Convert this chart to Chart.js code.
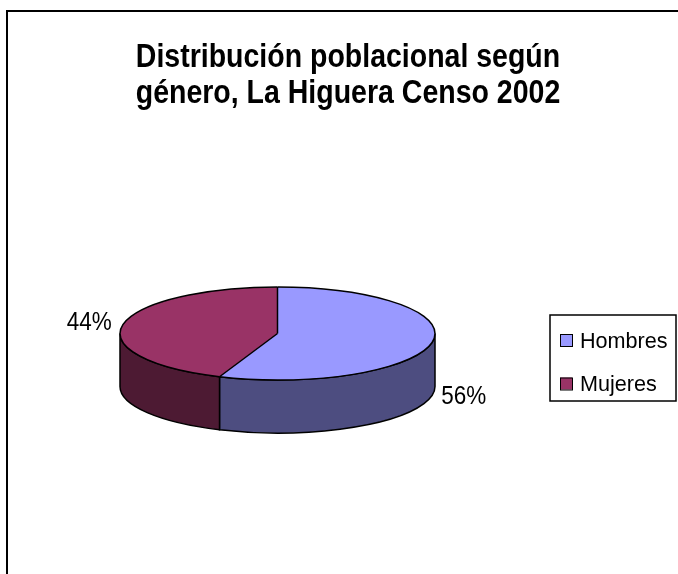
<!DOCTYPE html>
<html>
<head>
<meta charset="utf-8">
<title>Distribución poblacional según género, La Higuera Censo 2002</title>
<script src="https://cdn.jsdelivr.net/npm/chart.js@4.4.1/dist/chart.umd.min.js"></script>
<style>
  html, body { margin: 0; padding: 0; background: #fff; }
  #wrap { width: 678px; height: 574px; position: relative; }
</style>
</head>
<body>
<div id="wrap"><canvas id="pie3d"></canvas></div>
<script>
const titleLines = ['Distribución poblacional según', 'género, La Higuera Censo 2002'];
const categories = ['Hombres', 'Mujeres'];
const shares = [56, 44];

const topColors = ['#9999FF', '#993366'];
const sideColors = ['#4D4D80', '#4D1A33'];

const TILT = 46.5 / 157.5;   // vertical squash of the pie top
const DEPTH = 53;            // height of the pie wall
const FONT = "'Liberation Sans', Arial, sans-serif";

// text in the original is a bit taller than its width suggests
function stretchedText(ctx, text, x, y, sy) {
  ctx.save();
  ctx.translate(x, y);
  ctx.scale(1, sy);
  ctx.fillText(text, 0, 0);
  ctx.restore();
}

function arcGeom(arc) {
  const p = arc.getProps(['x', 'y', 'startAngle', 'endAngle', 'outerRadius'], true);
  return { x: p.x, y: p.y, s: p.startAngle, e: p.endAngle, rx: p.outerRadius, ry: p.outerRadius * TILT };
}

const pie3d = {
  id: 'pie3d',
  beforeDraw(chart) {
    const ctx = chart.ctx;
    ctx.save();
    ctx.fillStyle = '#fff';
    ctx.fillRect(0, 0, chart.width, chart.height);
    ctx.strokeStyle = '#000';
    ctx.lineWidth = 2;
    ctx.strokeRect(7, 11, 700, 600);
    ctx.restore();
  },
  beforeDatasetDraw(chart, args) {
    const ctx = chart.ctx;
    const arcs = args.meta.data;
    // walls: only the front half (0..PI on screen) can be seen
    arcs.forEach((arc, i) => {
      const g = arcGeom(arc);
      [-2 * Math.PI, 0, 2 * Math.PI].forEach(k => {
        const a = Math.max(g.s, k), b = Math.min(g.e, k + Math.PI);
        if (b <= a) return;
        ctx.save();
        ctx.beginPath();
        ctx.ellipse(g.x, g.y, g.rx, g.ry, 0, a, b);
        ctx.ellipse(g.x, g.y + DEPTH, g.rx, g.ry, 0, b, a, true);
        ctx.closePath();
        ctx.fillStyle = sideColors[i];
        ctx.fill();
        ctx.lineWidth = 1.5;
        ctx.strokeStyle = '#000';
        ctx.stroke();
        ctx.restore();
      });
    });
    // squash the library's slices into the top face
    const c = arcs[0];
    ctx.save();
    ctx.translate(c.x, c.y);
    ctx.scale(1, TILT);
    ctx.translate(-c.x, -c.y);
  },
  afterDatasetDraw(chart, args) {
    const ctx = chart.ctx;
    ctx.restore();
    const arcs = args.meta.data;
    ctx.save();
    ctx.lineWidth = 1.5;
    ctx.strokeStyle = '#000';
    arcs.forEach(arc => {
      const g = arcGeom(arc);
      ctx.beginPath();
      ctx.ellipse(g.x, g.y, g.rx, g.ry, 0, g.s, g.e);
      ctx.stroke();
      ctx.beginPath();
      ctx.moveTo(g.x, g.y);
      ctx.lineTo(g.x + g.rx * Math.cos(g.s), g.y + g.ry * Math.sin(g.s));
      ctx.stroke();
    });
    // percentage labels outside each slice
    ctx.fillStyle = '#000';
    ctx.font = '22.5px ' + FONT;
    ctx.textBaseline = 'middle';
    arcs.forEach((arc, i) => {
      const g = arcGeom(arc);
      const m = (g.s + g.e) / 2;
      const px = g.x + g.rx * Math.cos(m);
      let py = g.y + g.ry * Math.sin(m);
      if (Math.sin(m) > 0) py += DEPTH;
      const right = Math.cos(m) >= 0;
      ctx.textAlign = right ? 'left' : 'right';
      stretchedText(ctx, shares[i] + '%', right ? px + 9 : px - 11, py + (right ? 1.5 : -2), 1.15);
    });
    ctx.restore();
  },
  afterDraw(chart) {
    const ctx = chart.ctx;
    ctx.save();
    // title
    ctx.fillStyle = '#000';
    ctx.font = 'bold 28.5px ' + FONT;
    ctx.textAlign = 'center';
    ctx.textBaseline = 'alphabetic';
    titleLines.forEach((line, i) => stretchedText(ctx, line, 348, 67 + i * 36, 1.17));

    // legend box
    ctx.lineWidth = 1.5;
    ctx.strokeStyle = '#000';
    ctx.strokeRect(550, 315, 126, 86);
    ctx.font = '21.6px ' + FONT;
    ctx.textAlign = 'left';
    categories.forEach((name, i) => {
      const top = 334 + i * 43.5;
      ctx.fillStyle = topColors[i];
      ctx.fillRect(560, top, 12, 12);
      ctx.lineWidth = 1;
      ctx.strokeRect(560.5, top + 0.5, 12, 12);
      ctx.fillStyle = '#000';
      ctx.fillText(name, 580, top + 13.5);
    });
    ctx.restore();
  }
};

new Chart(document.getElementById('pie3d'), {
  type: 'pie',
  data: {
    labels: categories,
    datasets: [{
      data: shares,
      backgroundColor: topColors,
      borderWidth: 0,
      hoverBorderWidth: 0,
      hoverOffset: 0
    }]
  },
  options: {
    responsive: true,
    maintainAspectRatio: false,
    animation: false,
    events: [],
    layout: { padding: { left: 120, right: 243, top: 176, bottom: 83 } },
    plugins: {
      legend: { display: false },
      title: { display: false },
      tooltip: { enabled: false }
    }
  },
  plugins: [pie3d]
});
</script>
</body>
</html>
